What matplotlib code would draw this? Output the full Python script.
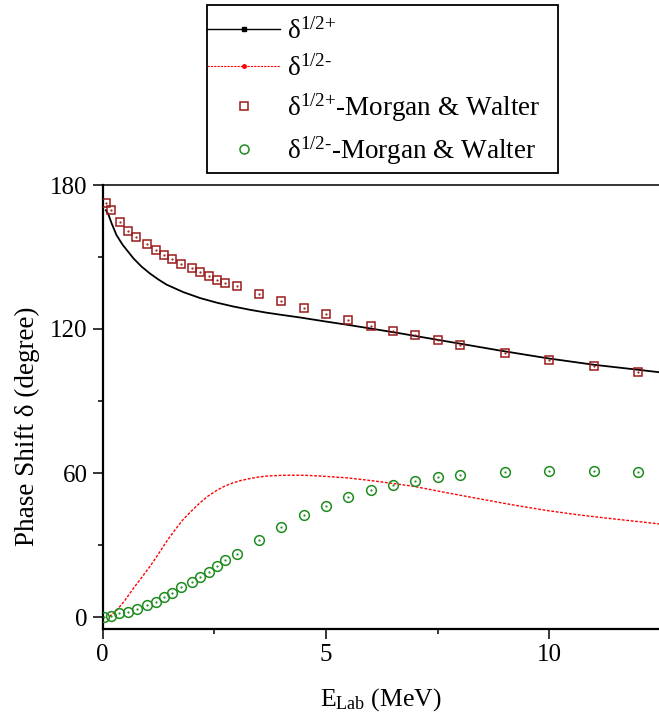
import matplotlib
matplotlib.use("Agg")
import matplotlib.pyplot as plt
from matplotlib.lines import Line2D
from matplotlib.patches import Rectangle
from matplotlib.ticker import MultipleLocator

plt.rcParams['font.family'] = ['Liberation Serif', 'DejaVu Serif']
plt.rcParams['mathtext.fontset'] = 'custom'
plt.rcParams['mathtext.rm'] = 'Liberation Serif'
plt.rcParams['mathtext.it'] = 'Liberation Serif:italic'
plt.rcParams['mathtext.bf'] = 'Liberation Serif:bold'

# Calculated phase shifts
E_plus_curve = [0.07, 0.10, 0.125, 0.2, 0.31, 0.45, 0.69, 0.87, 1.06, 1.25, 1.43,
                1.8, 2.18, 2.55, 2.92, 3.3, 3.67, 4.0, 4.42, 5.0, 5.5, 6.0, 6.66,
                7.0, 8.0, 9.0, 10.0, 11.0, 12.0, 12.46]
d_plus_curve = [169.5, 168.6, 167.9, 164.0, 159.1, 155.0, 149.4, 146.0, 143.1, 140.6,
                138.5, 135.4, 132.9, 131.0, 129.4, 128.0, 126.8, 125.9, 124.8, 123.1,
                121.7, 120.2, 118.2, 117.1, 113.9, 110.7, 107.7, 105.1, 103.0, 102.0]

E_minus_curve = [0.15, 0.31, 0.5, 0.69, 0.87, 1.06, 1.25, 1.43, 1.62, 1.8, 2.0, 2.18,
                 2.36, 2.55, 2.73, 2.92, 3.1, 3.3, 3.48, 3.67, 3.97, 4.27, 4.6, 4.9,
                 5.46, 5.8, 6.2, 6.95, 7.7, 8.45, 9.19, 9.94, 10.68, 11.43, 12.46]
d_minus_curve = [0.2, 2.7, 7.0, 12.0, 16.4, 21.1, 26.3, 31.5, 36.3, 40.6, 44.4, 47.6,
                 50.4, 52.7, 54.5, 55.9, 56.9, 57.7, 58.3, 58.7, 59.0, 59.1, 59.0, 58.7,
                 58.0, 57.3, 56.4, 54.5, 51.8, 49.2, 46.7, 44.4, 42.5, 40.9, 38.8]

# Morgan & Walter data
E_mw_plus = [0.07, 0.19, 0.38, 0.57, 0.75, 1.0, 1.19, 1.38, 1.56, 1.75, 2.0, 2.19,
             2.37, 2.57, 2.75, 3.0, 3.5, 4.0, 4.5, 5.0, 5.5, 6.0, 6.5, 7.0, 7.5,
             8.0, 9.0, 10.0, 11.0, 12.0]
d_mw_plus = [172.7, 169.4, 164.7, 161.0, 158.2, 155.5, 153.1, 150.9, 149.0, 147.1,
             145.5, 143.6, 142.1, 140.6, 139.2, 137.8, 134.6, 131.5, 128.7, 126.1,
             123.7, 121.3, 119.2, 117.3, 115.3, 113.4, 110.2, 107.1, 104.5, 102.1]

E_mw_minus = [0.03, 0.19, 0.37, 0.56, 0.76, 1.0, 1.19, 1.37, 1.56, 1.75, 2.0, 2.19,
              2.38, 2.57, 2.75, 3.0, 3.5, 4.0, 4.5, 5.0, 5.5, 6.0, 6.5, 7.0, 7.5,
              8.0, 9.0, 10.0, 11.0, 12.0]
d_mw_minus = [0.1, 0.5, 1.5, 2.2, 3.3, 4.9, 6.1, 8.2, 9.9, 12.3, 14.4, 16.5, 18.8,
              21.3, 23.7, 26.4, 32.1, 37.5, 42.4, 46.4, 50.1, 52.9, 55.1, 56.8,
              58.2, 59.1, 60.3, 60.8, 60.7, 60.4]

labels = [r'δ$^{\text{1/2+}}$', r'δ$^{\text{1/2-}}$',
          r'δ$^{\text{1/2+}}$-Morgan & Walter', r'δ$^{\text{1/2-}}$-Morgan & Walter']

sq_col = '#9B1B1B'
ci_col = '#1E8C1E'

W, H = 659, 723
fig = plt.figure(figsize=(W / 100, H / 100), dpi=100)
ax = fig.add_axes([102.7 / W, 1 - 629 / H, 1 - 102.7 / W, (629 - 185) / H])

ax.plot(E_plus_curve, d_plus_curve, color='black', lw=1.3, zorder=3)
ax.plot(E_minus_curve, d_minus_curve, color='red', lw=1.0, ls=(0, (2, 1.2)), zorder=3)
ax.plot(E_mw_plus, d_mw_plus, ls='none', marker='s', ms=6.2, mfc='none',
        mec=sq_col, mew=1.1, zorder=4)
ax.plot(E_mw_plus, d_mw_plus, ls='none', marker='.', ms=1.2, color=sq_col, zorder=4)
ax.plot(E_mw_minus, d_mw_minus, ls='none', marker='o', ms=7, mfc='none',
        mec=ci_col, mew=1.1, zorder=4)
ax.plot(E_mw_minus, d_mw_minus, ls='none', marker='.', ms=1.2, color=ci_col, zorder=4)

ax.set_xlim(0, 12.46)
ax.set_ylim(-5, 180)
ax.xaxis.set_major_locator(MultipleLocator(5))
ax.xaxis.set_minor_locator(MultipleLocator(2.5))
ax.yaxis.set_major_locator(MultipleLocator(60))
ax.yaxis.set_minor_locator(MultipleLocator(30))
ax.tick_params(which='major', direction='out', length=7, width=1.1, labelsize=18, pad=4)
ax.tick_params(which='minor', direction='out', length=3.8, width=1.1)
ax.tick_params(top=False, right=False, which='both')
ax.spines['right'].set_visible(False)
ax.spines['left'].set_linewidth(1.6)
ax.spines['bottom'].set_linewidth(1.6)
ax.spines['top'].set_linewidth(1.1)

ax.set_ylabel('Phase Shift δ (degree)', fontsize=19.5)
ax.yaxis.set_label_coords((40 - 102.7) / 556.3, (629 - 426) / 444)
ax.set_xlabel(r'E$_{\mathrm{Lab}}$ (MeV)', fontsize=18.5, labelpad=14)

handles = [
    Line2D([], [], color='black', lw=1.0, marker='s', ms=2.5),
    Line2D([], [], color='red', lw=0.8, ls=(0, (2, 1)), marker='o', ms=2.5),
    Line2D([], [], ls='none', marker='s', ms=6.0, mfc='none', mec=sq_col, mew=1.1),
    Line2D([], [], ls='none', marker='o', ms=6.5, mfc='none', mec=ci_col, mew=1.1),
]
leg = fig.legend(handles, labels, loc='upper left',
                 bbox_to_anchor=(207 / W, 1 - 18 / H), bbox_transform=fig.transFigure,
                 fontsize=19.5, frameon=False, handlelength=2.7, handletextpad=0.25,
                 borderpad=0.0, labelspacing=0.38, borderaxespad=0)
# legend frame
fig.patches.append(Rectangle((207 / W, 1 - 173 / H), (558 - 207) / W, (173 - 5) / H,
                             transform=fig.transFigure, fill=False, edgecolor='black',
                             lw=1.3, zorder=5))

fig.savefig('out.png', dpi=100)
